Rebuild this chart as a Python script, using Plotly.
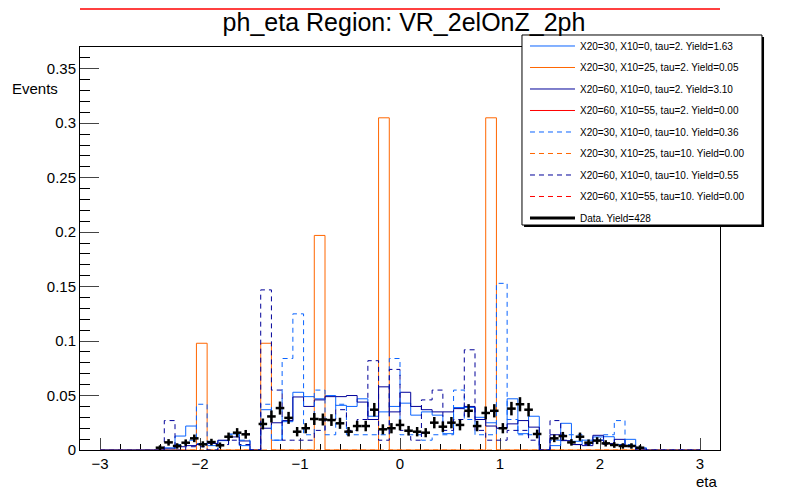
import numpy as np
import plotly.graph_objects as go

# signal histograms: 56 bins between -3 and 3
edges = np.linspace(-3, 3, 57)

s1_x20_30_x10_0_tau2 = [
    0, 0, 0, 0, 0, 0, 0.002, 0.0128,
    0.022, 0.006, 0.004, 0.0086, 0.0147, 0.004, 0, 0.037,
    0.009, 0.026, 0.053, 0.049, 0.047, 0.050, 0.041, 0.040,
    0.047, 0.031, 0.035, 0.040, 0.043, 0.032, 0.035, 0.032,
    0.015, 0.039, 0.039, 0.030, 0.025, 0.020, 0.047, 0.015,
    0.031, 0, 0.004, 0.0245, 0.008, 0.009, 0.012, 0.0122,
    0.005, 0.0098, 0.002, 0, 0, 0, 0, 0]
s2_x20_30_x10_25_tau2 = [
    0, 0, 0, 0, 0, 0, 0, 0,
    0, 0.098, 0, 0, 0, 0, 0, 0.098,
    0, 0, 0, 0, 0.197, 0, 0, 0,
    0, 0, 0.305, 0, 0, 0, 0, 0,
    0, 0, 0, 0, 0.305, 0, 0, 0,
    0, 0, 0, 0, 0, 0, 0, 0,
    0, 0, 0, 0, 0, 0, 0, 0]
s3_x20_60_x10_0_tau2 = [
    0, 0, 0, 0, 0, 0, 0.001, 0.003,
    0.004, 0.005, 0.006, 0.009, 0.012, 0.0083, 0, 0.020,
    0.025, 0.027, 0.0487, 0.040, 0.046, 0.049, 0.049, 0.050,
    0.044, 0.028, 0.058, 0.035, 0.053, 0.040, 0.037, 0.035,
    0.035, 0.038, 0.040, 0.028, 0.022, 0.020, 0.024, 0.027,
    0.021, 0, 0.014, 0.0086, 0.005, 0.004, 0.0135, 0.006,
    0.0098, 0.004, 0.001, 0, 0, 0, 0, 0]
s5_x20_30_x10_0_tau10 = [
    0, 0, 0, 0, 0, 0, 0, 0.005,
    0.009, 0.042, 0, 0.005, 0.014, 0.009, 0, 0.042,
    0.009, 0.084, 0.125, 0.014, 0.055, 0.014, 0.042, 0.014,
    0.014, 0.014, 0.014, 0.084, 0.014, 0.014, 0.009, 0.014,
    0.014, 0.055, 0.028, 0.014, 0.014, 0.153, 0.028, 0.014,
    0.014, 0, 0.009, 0.014, 0.014, 0.005, 0.009, 0.014,
    0.027, 0.005, 0, 0, 0, 0, 0, 0]
s6_x20_30_x10_25_tau10 = [0] * 56
s7_x20_60_x10_0_tau10 = [
    0, 0, 0, 0, 0, 0, 0.027, 0,
    0.003, 0.003, 0, 0.005, 0.009, 0.005, 0, 0.147,
    0.055, 0.009, 0.009, 0.009, 0.018, 0.028, 0.037, 0.018,
    0.028, 0.082, 0.009, 0.074, 0.018, 0.009, 0.046, 0.055,
    0.018, 0.028, 0.092, 0.018, 0.009, 0.009, 0.018, 0.018,
    0.009, 0, 0.027, 0.009, 0.005, 0.005, 0.009, 0.005,
    0.005, 0.003, 0, 0, 0, 0, 0, 0]

# data: bins of width 6/70 centred on k*6/70, k=-28..28 (crack bins empty)
data_bin = 6 / 70
data_k = list(range(-28, 29))
data_vals = [
    0.0021, 0.0070, 0.0037, 0.0067, 0.0107, 0.0052, 0.0073, 0.0043,
    0.0122, 0.0159, 0.0144, None, 0.0239, 0.0308, 0.0385, 0.0295,
    0.0168, 0.0200, 0.0285, 0.0280, 0.0275, 0.0245, 0.0168, 0.0220,
    0.0220, 0.0370, 0.0190, 0.0200, 0.0230, 0.0177, 0.0168, 0.0159,
    0.0251, 0.0214, 0.0251, 0.0230, 0.0360, 0.0220, 0.0340, 0.0360,
    0.0200, 0.0380, 0.0420, 0.0370, 0.0147, None, 0.0107, 0.0128,
    0.0070, 0.0122, 0.0067, 0.0086, 0.0061, 0.0046, 0.0037, 0.0037,
    0.0021]
data_errs = [
    0.0022, 0.0030, 0.0025, 0.0030, 0.0035, 0.0028, 0.0030, 0.0026,
    0.0038, 0.0042, 0.0040, None, 0.0050, 0.0055, 0.0060, 0.0055,
    0.0043, 0.0047, 0.0055, 0.0055, 0.0054, 0.0051, 0.0043, 0.0048,
    0.0048, 0.0062, 0.0046, 0.0047, 0.0050, 0.0044, 0.0043, 0.0042,
    0.0052, 0.0048, 0.0052, 0.0050, 0.0061, 0.0048, 0.0059, 0.0061,
    0.0047, 0.0062, 0.0065, 0.0062, 0.0040, None, 0.0035, 0.0038,
    0.0030, 0.0038, 0.0030, 0.0032, 0.0029, 0.0026, 0.0025, 0.0025,
    0.0022]

labels = [
    "X20=30, X10=0, tau=2. Yield=1.63",
    "X20=30, X10=25, tau=2. Yield=0.05",
    "X20=60, X10=0, tau=2. Yield=3.10",
    "X20=60, X10=55, tau=2. Yield=0.00",
    "X20=30, X10=0, tau=10. Yield=0.36",
    "X20=30, X10=25, tau=10. Yield=0.00",
    "X20=60, X10=0, tau=10. Yield=0.55",
    "X20=60, X10=55, tau=10. Yield=0.00",
]

BLUE = "#0a64ff"
ORANGE = "#ff6600"
NAVY = "#000099"
RED = "#ff0000"
DASH = "5px,4px"
FONT = "Liberation Sans, Arial, sans-serif"

series = [
    (s1_x20_30_x10_0_tau2, BLUE, "solid"),
    (s2_x20_30_x10_25_tau2, ORANGE, "solid"),
    (s3_x20_60_x10_0_tau2, NAVY, "solid"),
    (None, RED, "solid"),
    (s5_x20_30_x10_0_tau10, BLUE, DASH),
    (s6_x20_30_x10_25_tau10, ORANGE, DASH),
    (s7_x20_60_x10_0_tau10, NAVY, DASH),
    (None, RED, DASH),
]

fig = go.Figure()

for i, (vals, col, dash) in enumerate(series):
    if vals is None:
        # empty (0/0) histograms: only a legend entry here
        x, y = [None], [None]
    else:
        x, y = edges, list(vals) + [vals[-1]]
    fig.add_trace(go.Scatter(
        x=x, y=y, mode="lines", line_shape="hv",
        line=dict(color=col, width=1, dash=dash),
        name=labels[i], legendgroup="g%d" % i))

data_x = [k * data_bin for k in data_k]
fig.add_trace(go.Scatter(
    x=data_x, y=data_vals, mode="markers",
    marker=dict(size=2, color="black"),
    error_y=dict(type="data", array=data_errs, color="black", thickness=2.5, width=0),
    error_x=dict(type="constant", value=data_bin / 2, color="black", thickness=2.5, width=0),
    showlegend=False))
fig.add_trace(go.Scatter(
    x=[None], y=[None], mode="lines", line=dict(color="black", width=3),
    name="Data. Yield=428", legendgroup="g9"))

shapes = [
    # red line of the empty histograms, at the very top of the canvas
    dict(type="line", xref="paper", yref="paper", x0=0, x1=1, y0=1.094, y1=1.094,
         line=dict(color=RED, width=1.5)),
    # legend box with its shadow
    dict(type="rect", xref="paper", yref="paper", x0=0.6938, x1=1.0688, y0=0.5533, y1=1.0248,
         fillcolor="black", line=dict(width=0)),
    dict(type="rect", xref="paper", yref="paper", x0=0.6906, x1=1.0656, y0=0.5583, y1=1.0298,
         fillcolor="white", line=dict(color="black", width=1)),
]

# the page body adds 8px on the top and left, so the figure is 8px smaller
fig.update_layout(
    width=792, height=492,
    margin=dict(l=72, r=80, t=39, b=50),
    paper_bgcolor="white", plot_bgcolor="white",
    font=dict(family=FONT, color="black", size=15),
    title=dict(text="ph_eta Region: VR_2elOnZ_2ph", x=0.5, xanchor="center",
               y=0.9715, yanchor="middle", font=dict(size=25)),
    legend=dict(x=0.6953, y=1.0385, xanchor="left", yanchor="top",
                bgcolor="rgba(0,0,0,0)", borderwidth=0,
                font=dict(size=10), itemwidth=45, tracegroupgap=2.5,
                traceorder="grouped"),
    shapes=shapes,
    annotations=[
        dict(text="Events", xref="paper", yref="paper", x=-0.07, y=0.898,
             xanchor="center", yanchor="middle", showarrow=False, font=dict(size=15)),
        dict(text="eta", xref="paper", yref="paper", x=0.98, y=-0.077,
             xanchor="center", yanchor="middle", showarrow=False, font=dict(size=15)),
    ],
)
fig.update_xaxes(range=[-3.2, 3.2], dtick=1, tick0=0, ticks="inside", ticklen=12,
                 minor=dict(dtick=0.2, ticks="inside", ticklen=6, tickcolor="black"),
                 showline=True, linecolor="black", linewidth=1, mirror=True,
                 showgrid=False, zeroline=False, layer="below traces")
fig.update_yaxes(range=[0, 0.37], dtick=0.05, tick0=0, ticks="inside", ticklen=19,
                 minor=dict(dtick=0.01, ticks="inside", ticklen=10, tickcolor="black"),
                 showline=True, linecolor="black", linewidth=1, mirror=True,
                 showgrid=False, zeroline=False, layer="below traces")

fig.write_html("out.html")
